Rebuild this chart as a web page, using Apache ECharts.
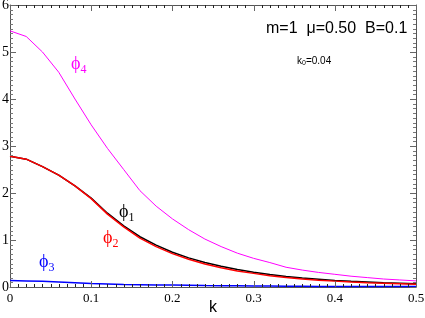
<!DOCTYPE html>
<html><head><meta charset="utf-8">
<script src="https://cdn.jsdelivr.net/npm/echarts@6/dist/echarts.min.js"></script>
<style>html,body{margin:0;padding:0;background:#fff}#c{width:425px;height:318px}</style>
</head><body><div id="c"></div>
<script>
const kValues = [0,0.02,0.04,0.06,0.08,0.10,0.12,0.14,0.16,0.18,0.20,0.22,0.24,0.26,0.28,0.30,0.32,0.34,0.36,0.38,0.40,0.42,0.44,0.46,0.48,0.50];
const phi1 = [2.78,2.72,2.56,2.38,2.15,1.89,1.57,1.30,1.07,0.89,0.74,0.62,0.52,0.44,0.37,0.315,0.265,0.225,0.19,0.165,0.14,0.12,0.105,0.09,0.08,0.07];
const phi2 = [2.78,2.72,2.56,2.38,2.15,1.88,1.55,1.28,1.04,0.86,0.71,0.59,0.49,0.41,0.34,0.29,0.24,0.20,0.17,0.145,0.125,0.105,0.09,0.08,0.07,0.06];
const phi3 = [0.14,0.13,0.12,0.105,0.09,0.075,0.065,0.055,0.05,0.045,0.04,0.035,0.03,0.027,0.024,0.021,0.019,0.017,0.015,0.013,0.012,0.011,0.01,0.01,0.01,0.01];
const phi4 = [5.45,5.33,5.00,4.57,4.00,3.45,2.95,2.50,2.05,1.72,1.45,1.22,1.02,0.86,0.72,0.61,0.52,0.42,0.36,0.31,0.27,0.23,0.20,0.17,0.15,0.13];
const xMajorTicks = [0,0.1,0.2,0.3,0.4,0.5];
const yMajorTicks = [0,1,2,3,4,5,6];
const X_MIN = 0, X_MAX = 0.5, Y_MIN = 0, Y_MAX = 6;

// minor tick values: 10 subdivisions between major ticks
function minorOf(majors){
  const out = [];
  for (let i = 0; i < majors.length - 1; i++){
    const a = majors[i], b = majors[i+1];
    for (let j = 1; j < 10; j++) out.push(+(a + (b - a) * j / 10).toFixed(4));
  }
  return out;
}
// tick records: [value, kind]  kind 0=x major, 1=x minor, 2=y major, 3=y minor
const tickData = [].concat(
  xMajorTicks.map(v=>[v,0]), minorOf(xMajorTicks).map(v=>[v,1]),
  yMajorTicks.map(v=>[v,2]), minorOf(yMajorTicks).map(v=>[v,3])
);

const pair = arr => kValues.map((k,i)=>[k,arr[i]]);
const chart = echarts.init(document.getElementById('c'));
const serif = '"Liberation Serif","DejaVu Serif",serif';
const sans = '"Liberation Sans",Arial,sans-serif';
const frameCol = '#555';
function ax(type,pos,extra){
  return Object.assign({type:'value',position:pos,
    min:type==='x'?X_MIN:Y_MIN,max:type==='x'?X_MAX:Y_MAX,interval:type==='x'?0.1:1,
    axisLine:{show:true,onZero:false,lineStyle:{color:frameCol,width:1}},
    axisTick:{show:false},
    minorTick:{show:false},
    splitLine:{show:false}},extra||{});
}
const xBottom = ax('x','bottom',{
  axisLabel:{margin:5,fontFamily:serif,fontSize:13,color:'#000'},
  name:'k',nameLocation:'middle',nameGap:13,nameMoveOverlap:false,
  nameTextStyle:{fontFamily:sans,fontSize:16,color:'#000'}});
const xTop = ax('x','top',{axisLabel:{show:false}});
const yLeft = ax('y','left',{axisLabel:{margin:1,fontFamily:serif,fontSize:14,color:'#000'}});
const yRight = ax('y','right',{axisLabel:{show:false}});

function renderTick(params, api){
  const v = api.value(0), kind = api.value(1);
  const major = (kind === 0 || kind === 2);
  const len = major ? 6 : 3;
  const stroke = major ? '#666' : (kind === 1 ? '#222' : '#777');
  const st = {stroke:stroke, lineWidth:1};
  if (kind <= 1){
    const pb = api.coord([v, Y_MIN]), pt = api.coord([v, Y_MAX]);
    const x = Math.round(pb[0]) + 0.5;
    return {type:'group', children:[
      {type:'line', shape:{x1:x,y1:pb[1],x2:x,y2:pb[1]-len}, style:st},
      {type:'line', shape:{x1:x,y1:pt[1],x2:x,y2:pt[1]+len}, style:st}
    ]};
  } else {
    const pl = api.coord([X_MIN, v]), pr = api.coord([X_MAX, v]);
    const y = Math.round(pl[1]) + 0.5;
    return {type:'group', children:[
      {type:'line', shape:{x1:pl[0],y1:y,x2:pl[0]+len,y2:y}, style:st},
      {type:'line', shape:{x1:pr[0],y1:y,x2:pr[0]-len,y2:y}, style:st}
    ]};
  }
}

chart.setOption({
  animation:false,
  grid:{left:10,right:9,top:5,bottom:31,outerBoundsMode:'none'},
  xAxis:[xBottom, xTop],
  yAxis:[yLeft, yRight],
  series:[
    {type:'custom',name:'ticks',data:tickData,renderItem:renderTick,clip:false,silent:true,z:10,
     encode:{x:0,y:1}},
    {type:'line',data:pair(phi4),symbol:'none',lineStyle:{color:'#ff00ff',width:1},z:2},
    {type:'line',data:pair(phi1),symbol:'none',lineStyle:{color:'#000000',width:1.5},z:3},
    {type:'line',data:pair(phi2),symbol:'none',lineStyle:{color:'#ff0000',width:1.5},z:4},
    {type:'line',data:pair(phi3),symbol:'none',lineStyle:{color:'#0000ff',width:1.5},z:5}
  ],
  graphic:[
    {type:'text',left:266,top:21,style:{text:'m=1  μ=0.50  B=0.1',font:'16px '+sans,fill:'#000'}},
    {type:'text',left:297,top:56,style:{text:'{a|k}{s|0}{a|=0.04}',rich:{a:{fontFamily:sans,fontSize:10,fill:'#000'},s:{fontFamily:sans,fontSize:7,fill:'#000',padding:[5,0,0,0]}}}},
    {type:'text',left:71,top:55,style:{text:'{p|ϕ}{s|4}',rich:{p:{fontFamily:serif,fontSize:18,fill:'#ff00ff'},s:{fontFamily:serif,fontSize:12,fill:'#ff00ff',padding:[11,0,0,0]}}}},
    {type:'text',left:119,top:203,style:{text:'{p|ϕ}{s|1}',rich:{p:{fontFamily:serif,fontSize:18,fill:'#000'},s:{fontFamily:serif,fontSize:12,fill:'#000',padding:[11,0,0,0]}}}},
    {type:'text',left:103,top:229,style:{text:'{p|ϕ}{s|2}',rich:{p:{fontFamily:serif,fontSize:18,fill:'#ff0000'},s:{fontFamily:serif,fontSize:12,fill:'#ff0000',padding:[11,0,0,0]}}}},
    {type:'text',left:39,top:253,style:{text:'{p|ϕ}{s|3}',rich:{p:{fontFamily:serif,fontSize:18,fill:'#0000ff'},s:{fontFamily:serif,fontSize:12,fill:'#0000ff',padding:[11,0,0,0]}}}}
  ]
});
</script></body></html>
